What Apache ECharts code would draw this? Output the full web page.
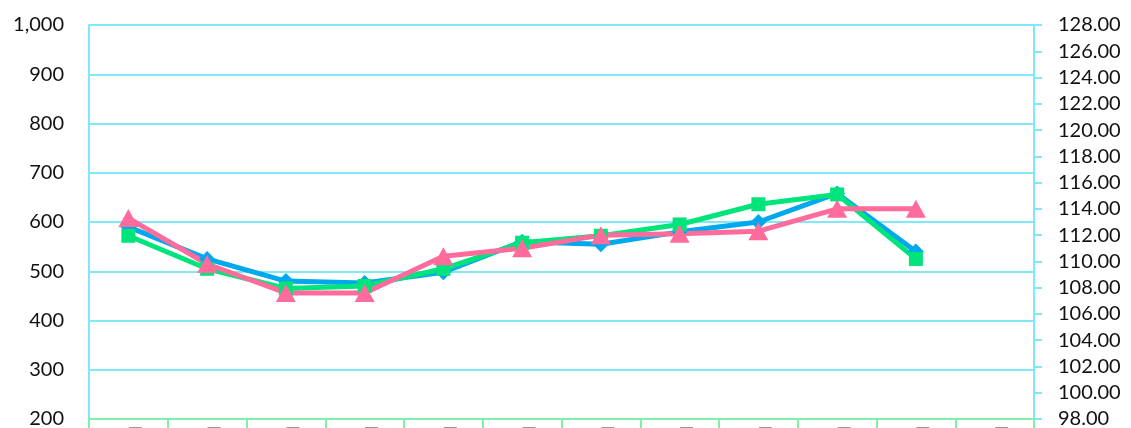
<!DOCTYPE html>
<html>
<head>
<meta charset="utf-8">
<script src="https://cdn.jsdelivr.net/npm/echarts@6/dist/echarts.min.js"></script>
<style>
html,body{margin:0;padding:0;background:#fff;}
#chart{width:1131px;height:428px;}
</style>
</head>
<body>
<div id="chart"></div>
<script>
// 数据
var categories=['1','2','3','4','5','6','7','8','9','10','11','12'];
var blueData=[590,525,480,476,498,560,555,580,600,658,540];
var greenData=[572,505,465,470,505,558,572,595,636,656,525];
// 右轴
var pinkData=[113.3,109.8,107.6,107.6,110.4,111.0,112.0,112.1,112.3,114.0,114.0];

var myChart=echarts.init(document.getElementById('chart'));
var font='Lato';
var option={
    animation:false,
    grid:{left:89,right:97,top:25,bottom:9,outerBoundsMode:'none',containLabel:false},
    xAxis:[{
        type:'category',
        data:categories,
        boundaryGap:true,
        axisLine:{show:true,lineStyle:{color:'#80f0a8',width:2}},
        axisTick:{show:true,interval:0,length:10,lineStyle:{color:'#80f0a8',width:2}},
        axisLabel:{
            interval:0,margin:8,padding:[0,0,0,14],
            formatter:function(){return '{b|}';},
            rich:{b:{width:13,height:2,backgroundColor:'#999'}}
        },
        splitLine:{show:false}
    }],
    yAxis:[{
        type:'value',min:200,max:1000,interval:100,
        axisLine:{show:true,lineStyle:{color:'#7fe9f7',width:2}},
        axisTick:{show:false},
        axisLabel:{margin:25,color:'#111',fontSize:20,fontFamily:font,
            formatter:function(v){return v.toLocaleString('en-US');}},
        splitLine:{show:true,lineStyle:{color:'#7fe9f7',width:2}}
    },{
        type:'value',min:98,max:128,interval:2,position:'right',
        axisLine:{show:true,lineStyle:{color:'#7fe9f7',width:2}},
        axisTick:{show:true,length:8,lineStyle:{color:'#7fe9f7',width:2}},
        axisLabel:{margin:24,color:'#111',fontSize:20,fontFamily:font,
            formatter:function(v){return v.toFixed(2);}},
        splitLine:{show:false}
    }],
    series:[{
        name:'A',type:'line',data:blueData,yAxisIndex:0,
        symbol:'diamond',symbolSize:16,
        lineStyle:{color:'#00a8ee',width:5},
        itemStyle:{color:'#00a8ee'}
    },{
        name:'B',type:'line',data:greenData,yAxisIndex:0,
        symbol:'rect',symbolSize:14,
        lineStyle:{color:'#00e47c',width:5},
        itemStyle:{color:'#00e47c'}
    },{
        name:'C',type:'line',data:pinkData,yAxisIndex:1,
        symbol:'triangle',symbolSize:[20,18],
        lineStyle:{color:'#ff6b9b',width:5},
        itemStyle:{color:'#ff6b9b'}
    }]
};
myChart.setOption(option);
window.addEventListener("resize",function(){
    myChart.resize();
});
</script>
</body>
</html>
